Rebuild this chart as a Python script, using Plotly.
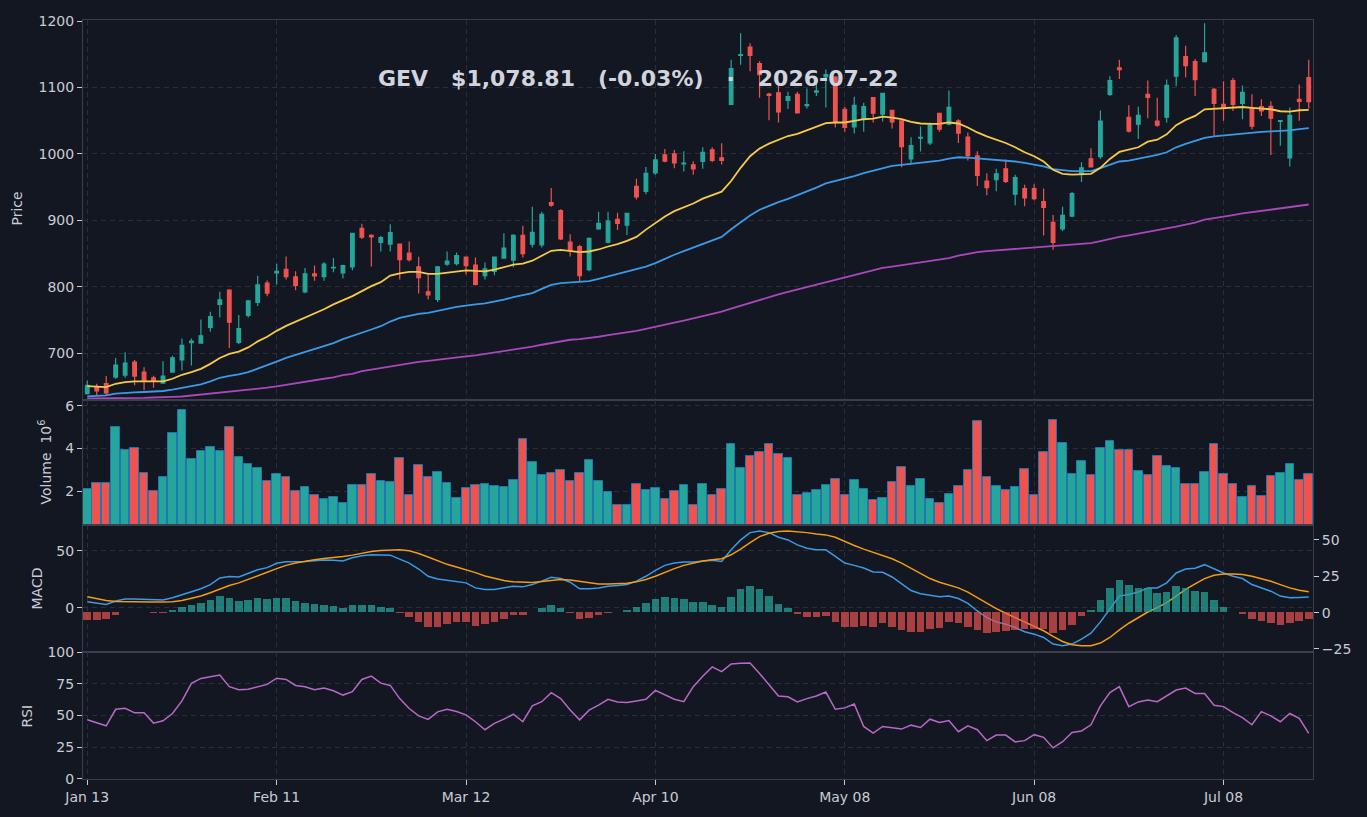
import plotly.graph_objects as go
import pandas as pd

TICKER = "GEV"
ASOF = "2026-07-22"
HOLIDAYS = ["2026-01-19", "2026-02-16", "2026-04-03", "2026-05-25", "2026-06-19", "2026-07-03"]
DATES = [d.strftime("%Y-%m-%d") for d in pd.bdate_range("2026-01-13", periods=130, freq="C", holidays=HOLIDAYS)]
TICK_LABELS = ["Jan 13", "Feb 11", "Mar 12", "Apr 10", "May 08", "Jun 08", "Jul 08"]

OPEN = [639.3, 648.3, 654.3, 664.2, 667.2, 686.6, 671.7, 663.2, 655.2, 671.7,
        690.1, 715.9, 715.4, 738.8, 773.6, 795.0, 716.4, 757.2, 776.6, 805.5,
        821.0, 826.4, 815.0, 792.5, 819.4, 815.4, 828.5, 820.9, 829.9, 888.1,
        877.6, 866.7, 864.2, 864.2, 850.7, 829.9, 792.5, 781.1, 834.3, 834.8,
        844.8, 832.8, 816.9, 823.4, 843.3, 840.3, 877.6, 864.2, 863.2, 926.9,
        914.9, 867.2, 860.7, 825.9, 887.1, 867.2, 901.5, 893.0, 951.2, 943.7,
        971.6, 998.5, 1000.0, 985.1, 983.6, 988.6, 1006.0, 994.0, 1074.6, 1148.3,
        1160.7, 1135.8, 1090.0, 1092.0, 1080.6, 1089.6, 1072.6, 1093.0, 1115.9, 1115.4,
        1067.2, 1040.8, 1052.2, 1084.6, 1059.7, 1065.7, 1049.8, 992.5, 1023.9, 1016.4,
        1061.2, 1044.8, 1049.8, 1025.4, 997.0, 959.2, 961.2, 977.6, 939.3, 947.8,
        947.8, 928.4, 897.0, 887.1, 906.5, 969.2, 992.5, 996.0, 1089.6, 1129.4,
        1055.2, 1044.8, 1089.6, 1049.3, 1055.2, 1116.9, 1146.3, 1138.8, 1138.8, 1097.0,
        1074.6, 1110.4, 1076.1, 1069.7, 1071.1, 1071.6, 1048.8, 994.0, 1082.1, 1114.9]
HIGH = [659.0, 654.3, 665.7, 693.0, 701.5, 690.1, 679.1, 666.2, 688.1, 696.5,
        722.4, 722.4, 750.7, 762.7, 792.5, 796.5, 757.7, 779.6, 816.6, 809.5,
        834.8, 845.8, 823.4, 828.4, 832.3, 837.3, 843.3, 833.3, 881.5, 895.0,
        879.1, 876.6, 894.0, 865.2, 868.2, 845.3, 818.4, 831.4, 853.2, 851.7,
        845.3, 844.3, 836.8, 845.3, 880.6, 879.1, 892.1, 920.4, 913.0, 948.8,
        916.9, 879.1, 863.2, 874.1, 912.9, 912.9, 911.4, 911.0, 962.7, 980.5,
        1000.0, 1007.5, 1006.0, 1004.0, 989.1, 1010.0, 1010.0, 1015.9, 1141.8, 1181.6,
        1166.7, 1139.3, 1092.0, 1104.5, 1093.5, 1093.5, 1098.5, 1105.5, 1126.9, 1116.9,
        1071.1, 1086.1, 1077.1, 1085.0, 1091.5, 1066.2, 1050.3, 1024.9, 1041.3, 1047.3,
        1061.7, 1095.5, 1052.2, 1032.3, 1004.0, 971.1, 977.6, 991.5, 968.7, 953.7,
        954.2, 947.8, 908.0, 920.4, 942.8, 987.6, 1008.5, 1065.2, 1116.9, 1141.8,
        1073.1, 1071.1, 1110.4, 1084.6, 1111.9, 1179.1, 1162.7, 1142.8, 1196.5, 1099.5,
        1109.5, 1114.4, 1103.0, 1089.6, 1082.1, 1079.1, 1050.7, 1069.7, 1104.5, 1141.8]
LOW = [638.0, 637.0, 637.0, 661.7, 663.2, 652.0, 644.3, 648.3, 655.0, 671.0,
       674.0, 681.6, 715.0, 732.3, 753.7, 708.0, 714.0, 753.7, 771.1, 786.0,
       803.5, 811.0, 795.0, 790.5, 809.0, 809.0, 821.9, 812.4, 824.9, 872.1,
       830.8, 853.2, 853.2, 811.0, 838.3, 790.0, 781.0, 777.1, 831.8, 832.3,
       818.4, 802.0, 811.0, 817.4, 843.0, 829.4, 844.3, 859.2, 859.2, 920.4,
       870.6, 845.8, 808.5, 823.4, 886.0, 865.2, 885.6, 878.1, 931.3, 939.2,
       968.6, 987.6, 978.6, 973.6, 968.6, 977.6, 987.6, 984.1, 1073.6, 1134.3,
       1124.4, 1084.6, 1050.7, 1047.3, 1067.7, 1061.2, 1068.2, 1087.1, 1069.7, 1039.8,
       1033.3, 1030.8, 1033.3, 1047.3, 1048.8, 1038.3, 980.0, 985.0, 1003.5, 1013.4,
       1033.3, 1043.3, 1016.4, 990.0, 951.7, 937.8, 943.8, 956.2, 922.9, 921.4,
       930.3, 877.1, 855.7, 884.1, 905.0, 957.7, 979.6, 992.5, 1087.1, 1112.9,
       1032.3, 1022.4, 1053.7, 1040.8, 1047.3, 1102.0, 1115.4, 1087.1, 1137.8, 1027.4,
       1049.8, 1064.7, 1052.2, 1037.3, 1057.2, 998.5, 1012.4, 981.1, 1049.8, 1068.2]
CLOSE = [651.7, 643.3, 640.3, 682.1, 685.1, 665.7, 659.2, 658.2, 665.7, 693.0,
         712.0, 718.4, 726.4, 755.2, 780.6, 746.8, 737.3, 779.1, 802.9, 790.5,
         823.4, 815.4, 802.0, 819.4, 816.4, 834.3, 829.4, 831.8, 880.6, 874.6,
         875.1, 874.1, 881.6, 840.8, 840.8, 813.9, 788.0, 829.9, 838.8, 847.2,
         831.8, 803.5, 826.9, 844.8, 858.2, 877.6, 849.8, 882.1, 909.0, 922.9,
         872.1, 854.7, 816.9, 873.1, 895.5, 899.0, 895.5, 910.4, 935.3, 970.6,
         991.0, 989.1, 986.6, 986.1, 977.6, 1002.5, 990.1, 990.1, 1128.4, 1149.3,
         1148.3, 1119.4, 1088.0, 1063.2, 1086.1, 1061.7, 1074.1, 1095.0, 1119.4, 1047.3,
         1039.8, 1073.1, 1071.1, 1061.2, 1091.0, 1048.3, 1011.0, 1012.4, 1024.9, 1043.3,
         1037.3, 1070.1, 1031.3, 997.5, 967.7, 949.3, 970.1, 958.7, 964.2, 933.8,
         932.8, 919.4, 866.7, 907.5, 940.3, 979.1, 980.6, 1049.3, 1110.4, 1126.9,
         1034.3, 1058.2, 1085.1, 1043.3, 1103.0, 1174.6, 1132.8, 1111.9, 1152.2, 1076.1,
         1069.7, 1074.6, 1092.5, 1041.8, 1064.7, 1053.7, 1050.2, 1058.2, 1079.1, 1078.81]
VOLUME_M = [2.08, 2.36, 2.36, 4.99, 3.92, 4.00, 2.83, 1.99, 2.64, 4.70,
            5.78, 3.49, 3.86, 4.05, 3.86, 5.02, 3.58, 3.25, 3.06, 2.45,
            2.78, 2.64, 1.99, 2.17, 1.80, 1.61, 1.70, 1.42, 2.27, 2.27,
            2.78, 2.45, 2.41, 3.53, 1.80, 3.20, 2.64, 2.88, 2.36, 1.66,
            2.13, 2.27, 2.31, 2.22, 2.17, 2.50, 4.42, 3.35, 2.74, 2.83,
            2.97, 2.45, 2.83, 3.44, 2.45, 1.94, 1.36, 1.36, 2.31, 2.03,
            2.13, 1.61, 1.99, 2.27, 1.36, 2.31, 1.80, 2.08, 4.19, 3.06,
            3.63, 3.81, 4.19, 3.72, 3.53, 1.83, 1.89, 2.03, 2.27, 2.55,
            1.80, 2.50, 2.08, 1.56, 1.66, 2.41, 3.11, 2.22, 2.55, 1.61,
            1.42, 1.85, 2.22, 2.97, 5.27, 2.64, 2.22, 2.03, 2.17, 3.02,
            1.80, 3.81, 5.32, 4.23, 2.78, 3.39, 2.74, 4.00, 4.33, 3.91,
            3.91, 2.92, 2.74, 3.63, 3.16, 3.06, 2.31, 2.31, 2.88, 4.19,
            2.78, 2.31, 1.70, 2.22, 1.75, 2.69, 2.83, 3.25, 2.50, 2.78]
MA_FAST = [650.7, 650.2, 649.0, 654.2, 656.7, 657.7, 657.7, 657.7, 657.7, 661.7,
           667.7, 671.6, 676.6, 684.1, 693.0, 699.0, 702.5, 708.9, 717.9, 724.9,
           733.8, 741.3, 747.3, 753.7, 759.7, 766.2, 773.6, 779.6, 786.1, 793.5,
           801.0, 807.0, 816.9, 820.4, 822.4, 822.4, 819.4, 819.4, 820.9, 823.4,
           824.9, 823.9, 823.4, 825.9, 829.4, 833.3, 834.8, 839.3, 846.8, 854.2,
           855.7, 854.2, 852.2, 853.2, 856.2, 860.7, 864.2, 869.2, 875.1, 886.1,
           896.5, 906.0, 913.9, 919.9, 925.4, 932.8, 938.3, 943.3, 959.2, 979.1,
           996.5, 1008.0, 1015.4, 1020.9, 1026.9, 1030.3, 1035.3, 1040.8, 1046.3, 1047.3,
           1047.3, 1049.8, 1052.2, 1053.2, 1056.2, 1054.7, 1052.2, 1048.3, 1045.8, 1045.3,
           1045.3, 1047.3, 1045.8, 1039.8, 1032.3, 1026.4, 1021.4, 1016.4, 1010.0, 1002.5,
           996.5, 988.6, 976.1, 970.1, 968.7, 969.2, 970.1, 979.1, 992.5, 1003.0,
           1006.5, 1010.0, 1018.4, 1021.4, 1029.4, 1043.3, 1051.2, 1057.2, 1067.2, 1068.2,
           1068.2, 1069.2, 1070.6, 1069.2, 1068.2, 1067.2, 1064.2, 1063.7, 1065.7, 1066.2]
MA_MID = [635.3, 635.8, 636.8, 639.3, 640.8, 641.3, 641.8, 642.3, 643.3, 645.3,
          647.8, 650.2, 653.2, 657.7, 663.2, 666.2, 668.2, 671.7, 676.6, 681.6,
          687.6, 693.0, 697.5, 702.5, 706.5, 711.4, 715.4, 721.4, 725.9, 730.8,
          735.8, 740.8, 747.8, 753.2, 756.7, 759.2, 760.7, 763.2, 766.7, 769.7,
          772.1, 773.6, 775.1, 777.6, 780.6, 784.6, 787.1, 790.5, 797.0, 803.0,
          805.5, 806.5, 806.5, 808.5, 811.9, 815.4, 818.9, 822.4, 825.9, 830.3,
          835.8, 842.3, 848.3, 853.7, 859.2, 863.7, 869.2, 875.1, 886.6, 897.5,
          907.5, 916.0, 921.9, 927.4, 932.3, 937.8, 943.3, 949.3, 955.7, 959.2,
          963.2, 966.7, 971.1, 975.1, 979.1, 982.1, 983.6, 985.1, 986.6, 988.1,
          990.0, 993.0, 995.0, 994.5, 993.5, 992.0, 991.0, 990.0, 988.6, 986.6,
          984.1, 981.1, 977.1, 975.1, 974.1, 974.1, 974.1, 978.6, 984.1, 988.6,
          990.0, 992.5, 996.0, 998.5, 1002.5, 1010.0, 1015.0, 1019.0, 1024.0, 1026.4,
          1027.9, 1029.4, 1031.3, 1031.8, 1033.3, 1033.8, 1034.3, 1035.3, 1037.3, 1038.8]
MA_SLOW = [632.0, 632.0, 632.0, 632.5, 632.5, 633.0, 633.0, 633.5, 633.5, 634.5,
           635.0, 636.5, 637.5, 638.9, 640.4, 641.4, 642.9, 644.4, 646.4, 648.3,
           650.2, 652.7, 655.2, 657.7, 659.7, 661.7, 663.7, 667.2, 669.2, 673.1,
           675.6, 678.1, 680.6, 682.6, 685.1, 687.1, 688.6, 690.6, 692.0, 694.0,
           695.5, 697.0, 699.0, 701.0, 703.5, 706.0, 708.0, 710.0, 712.9, 715.4,
           718.4, 720.4, 721.4, 722.9, 724.9, 727.4, 729.4, 731.8, 733.8, 736.8,
           740.3, 743.3, 746.3, 749.3, 752.7, 756.2, 759.2, 762.7, 767.2, 771.6,
           776.1, 780.6, 784.6, 788.6, 792.5, 796.0, 799.5, 803.5, 807.0, 810.5,
           814.0, 817.4, 820.9, 824.4, 828.4, 830.3, 832.3, 834.3, 836.3, 838.3,
           840.3, 843.3, 846.8, 849.8, 852.2, 853.7, 854.7, 856.2, 857.7, 858.7,
           859.7, 860.2, 860.7, 861.7, 863.2, 864.2, 865.7, 868.7, 872.1, 875.1,
           877.6, 880.1, 882.6, 884.6, 888.1, 890.5, 893.5, 896.5, 901.0, 903.0,
           905.5, 908.0, 910.4, 912.4, 914.4, 915.9, 917.9, 919.9, 921.9, 923.9]
MACD = [5.2, 3.8, 2.9, 5.8, 7.6, 7.6, 7.3, 6.7, 6.7, 8.7,
        11.6, 14.0, 16.6, 20.3, 26.2, 27.3, 27.0, 29.9, 33.4, 35.2,
        39.0, 40.4, 40.4, 40.7, 41.3, 41.9, 41.6, 41.0, 43.9, 45.6,
        46.5, 46.5, 46.2, 42.7, 39.2, 34.0, 27.6, 25.3, 24.1, 23.5,
        21.8, 17.4, 16.0, 16.0, 17.2, 18.9, 18.3, 20.3, 23.3, 26.7,
        25.6, 22.4, 16.6, 16.6, 17.4, 18.9, 19.5, 20.3, 23.3, 27.6,
        32.8, 37.2, 39.2, 40.1, 40.1, 41.0, 41.6, 40.7, 50.9, 59.6,
        66.0, 67.4, 66.0, 61.9, 59.6, 55.2, 52.3, 50.9, 50.9, 45.1,
        39.2, 37.2, 34.9, 31.4, 31.1, 27.0, 20.9, 15.1, 12.2, 11.0,
        9.6, 10.2, 8.1, 3.8, -2.9, -8.7, -12.5, -14.5, -17.4, -21.2,
        -23.3, -26.2, -32.0, -33.4, -32.0, -27.6, -22.4, -12.5, -1.5, 10.2,
        11.6, 13.7, 17.4, 17.4, 21.8, 30.5, 34.0, 34.6, 37.8, 34.0,
        30.5, 27.6, 25.6, 20.3, 17.4, 14.5, 10.2, 8.7, 9.0, 9.3]
SIGNAL = [9.6, 7.8, 6.4, 5.5, 5.2, 5.2, 5.2, 4.9, 4.9, 5.2,
          6.4, 8.1, 10.2, 13.1, 16.6, 19.5, 21.8, 24.7, 28.2, 31.1,
          34.3, 37.2, 39.2, 41.0, 42.2, 43.3, 44.0, 45.1, 46.2, 48.0,
          49.4, 50.3, 50.9, 50.9, 50.0, 47.7, 44.5, 41.0, 38.1, 35.8,
          33.4, 30.8, 27.9, 25.6, 23.8, 22.7, 22.1, 22.1, 23.0, 24.1,
          24.7, 24.4, 23.3, 21.8, 20.9, 20.9, 20.9, 21.5, 22.7, 24.7,
          27.6, 31.1, 34.3, 37.2, 39.2, 41.0, 42.2, 43.0, 46.5, 51.5,
          57.3, 62.5, 65.4, 66.9, 67.4, 66.9, 66.0, 64.8, 64.0, 61.9,
          58.1, 54.7, 51.5, 48.5, 45.9, 43.0, 39.2, 34.9, 29.9, 25.6,
          22.4, 20.1, 17.4, 13.7, 8.7, 3.8, -0.9, -4.9, -8.7, -13.1,
          -16.6, -20.3, -25.3, -29.7, -32.6, -33.4, -33.4, -31.1, -26.2, -19.5,
          -13.7, -8.7, -3.8, 0.0, 4.4, 10.2, 16.0, 20.9, 25.6, 28.5,
          29.7, 29.7, 29.1, 27.6, 25.6, 23.3, 20.3, 17.4, 15.4, 14.0]
HIST = [-5.0, -5.0, -4.3, -1.6, 0.0, 0.0, 0.0, -0.2, -0.2, 1.6,
        3.6, 5.0, 6.4, 8.4, 11.1, 9.8, 7.7, 8.4, 9.8, 9.1,
        9.8, 9.8, 7.7, 6.4, 5.7, 5.0, 4.3, 3.0, 5.0, 5.0,
        5.0, 3.6, 3.0, -0.2, -3.0, -6.4, -10.0, -10.0, -8.4, -7.0,
        -7.0, -9.1, -8.4, -6.4, -4.3, -1.6, -1.6, 0.0, 3.0, 5.0,
        3.0, -0.2, -4.3, -3.6, -1.6, -0.2, 0.0, 1.6, 3.6, 6.4,
        9.1, 10.5, 9.8, 9.1, 7.0, 7.0, 5.0, 3.6, 10.5, 15.9,
        18.0, 15.9, 11.1, 5.7, 3.0, -0.9, -3.0, -3.0, -2.3, -6.4,
        -9.8, -9.8, -9.1, -9.8, -7.7, -9.8, -12.5, -13.9, -13.9, -11.4,
        -10.5, -7.0, -7.7, -9.8, -12.5, -14.5, -13.9, -13.2, -12.5, -11.4,
        -11.4, -11.4, -14.5, -12.5, -8.6, -2.5, 1.6, 8.4, 16.6, 22.0,
        18.6, 16.6, 16.6, 13.2, 13.9, 18.0, 16.6, 14.5, 13.9, 8.4,
        3.6, 0.0, -1.1, -4.5, -5.7, -7.3, -8.6, -7.7, -5.7, -4.5]
RSI = [46.6, 44.0, 41.9, 54.9, 55.7, 52.1, 52.1, 44.0, 45.8, 51.6,
       61.5, 75.3, 79.2, 80.5, 81.8, 72.7, 70.3, 70.6, 72.7, 74.5,
       79.4, 78.4, 73.7, 72.7, 70.3, 71.6, 69.5, 66.1, 68.8, 78.4,
       81.0, 75.5, 73.7, 63.3, 55.5, 49.7, 46.9, 52.9, 54.9, 53.1,
       50.5, 45.1, 38.8, 43.8, 47.1, 51.0, 45.1, 57.6, 60.9, 68.0,
       63.3, 54.4, 46.6, 54.2, 58.1, 62.8, 60.7, 60.2, 61.5, 62.8,
       69.8, 66.1, 62.8, 60.9, 72.7, 81.0, 88.3, 84.6, 90.6, 91.1,
       91.4, 83.1, 73.9, 65.4, 64.8, 60.7, 63.3, 65.4, 68.5, 54.9,
       56.0, 59.1, 41.4, 36.2, 41.4, 40.1, 39.3, 42.4, 40.6, 47.1,
       44.5, 46.1, 37.2, 41.9, 38.8, 30.2, 34.6, 34.6, 29.2, 30.2,
       34.9, 32.8, 24.5, 29.4, 36.7, 37.8, 42.7, 57.6, 68.0, 72.7,
       57.0, 60.7, 62.2, 60.9, 65.4, 70.1, 71.6, 67.4, 67.4, 58.1,
       57.0, 52.3, 48.4, 42.7, 53.1, 49.7, 45.1, 51.6, 47.7, 36.0]

BG = "#131722"
GRID = "#2a2e39"
SPINE = "#3b3f4c"
TXT = "#c8ccd4"
UP = "#26a69a"
DOWN = "#ef5350"
FONT = "DejaVu Sans"

TICKVALS = DATES[::20]

fig = go.Figure()

fig.add_trace(go.Candlestick(
    x=DATES, open=OPEN, high=HIGH, low=LOW, close=CLOSE,
    increasing=dict(line=dict(color=UP, width=1.2), fillcolor=UP),
    decreasing=dict(line=dict(color=DOWN, width=1.2), fillcolor=DOWN),
    whiskerwidth=0, showlegend=False, xaxis="x", yaxis="y", hoverinfo="skip"))
for series, color in [(MA_SLOW, "#ab47bc"), (MA_MID, "#3b9ae6"), (MA_FAST, "#f7c948")]:
    fig.add_trace(go.Scatter(x=DATES, y=series, mode="lines", line=dict(color=color, width=1.8),
                             showlegend=False, xaxis="x", yaxis="y", hoverinfo="skip"))

vol_colors = [UP if c >= o else DOWN for o, c in zip(OPEN, CLOSE)]
fig.add_trace(go.Bar(x=DATES, y=VOLUME_M, width=0.9,
                     marker=dict(color=vol_colors, line=dict(color="#1f77b4", width=1)),
                     showlegend=False, xaxis="x2", yaxis="y2", hoverinfo="skip"))

fig.add_trace(go.Scatter(x=DATES, y=MACD, mode="lines", line=dict(color="#3b9ae6", width=1.5),
                         showlegend=False, xaxis="x3", yaxis="y3", hoverinfo="skip"))
fig.add_trace(go.Scatter(x=DATES, y=SIGNAL, mode="lines", line=dict(color="#f39c12", width=1.5),
                         showlegend=False, xaxis="x3", yaxis="y3", hoverinfo="skip"))
hist_colors = ["rgba(38,166,154,0.72)" if h >= 0 else "rgba(239,83,80,0.68)" for h in HIST]
fig.add_trace(go.Bar(x=DATES, y=HIST, width=0.8, marker=dict(color=hist_colors, line=dict(width=0)),
                     showlegend=False, xaxis="x3", yaxis="y4", hoverinfo="skip"))

fig.add_trace(go.Scatter(x=DATES, y=RSI, mode="lines", line=dict(color="#ba68c8", width=1.5),
                         showlegend=False, xaxis="x4", yaxis="y5", hoverinfo="skip"))

tickfont = dict(family=FONT, size=14, color=TXT)
xbase = dict(type="category", range=[-0.45, 129.45], tickvals=TICKVALS, ticktext=TICK_LABELS,
             showgrid=True, gridcolor=GRID, gridwidth=1, griddash="5px,4px",
             showline=True, linecolor=SPINE, linewidth=1, mirror=True, zeroline=False,
             rangeslider=dict(visible=False), tickfont=tickfont, fixedrange=True)
ybase = dict(showgrid=True, gridcolor=GRID, gridwidth=1, griddash="5px,4px",
             showline=True, linecolor=SPINE, linewidth=1, mirror=True, zeroline=False,
             ticks="outside", ticklen=5, tickcolor=TXT, tickfont=tickfont, fixedrange=True)

D_RSI = [0.0, 0.1673]
D_MACD = [0.1673, 0.3342]
D_VOL = [0.3342, 0.4993]
D_PRICE = [0.5, 1.0]

fig.update_layout(
    width=1367, height=817,
    margin=dict(l=83, r=54, t=16, b=36),
    paper_bgcolor=BG, plot_bgcolor=BG,
    font=dict(family=FONT, color=TXT),
    boxgap=0.45, bargap=0,
    showlegend=False,
    xaxis=dict(xbase, anchor="y", showticklabels=False, ticks=""),
    xaxis2=dict(xbase, anchor="y2", matches="x", showticklabels=False, ticks=""),
    xaxis3=dict(xbase, anchor="y3", matches="x", showticklabels=False, ticks=""),
    xaxis4=dict(xbase, anchor="y5", matches="x", showticklabels=True, ticks="outside",
                ticklen=5, tickcolor=TXT),
    yaxis=dict(ybase, domain=D_PRICE, anchor="x", range=[630.5, 1201.5],
               tickvals=[700, 800, 900, 1000, 1100, 1200]),
    yaxis2=dict(ybase, domain=D_VOL, anchor="x2", range=[0.39, 6.27], tickvals=[2, 4, 6]),
    yaxis3=dict(ybase, domain=D_MACD, anchor="x3", range=[-39.0, 72.4], tickvals=[0, 50]),
    yaxis4=dict(ybase, overlaying="y3", anchor="x3", side="right", range=[-27.1, 60.0],
                tickvals=[-25, 0, 25, 50], showgrid=False, showline=False),
    yaxis5=dict(ybase, domain=D_RSI, anchor="x4", range=[0, 100], tickvals=[0, 25, 50, 75, 100]),
)

pct = (CLOSE[-1] / CLOSE[-2] - 1) * 100
sp = "\u00a0\u00a0\u00a0"
title = f"{TICKER}{sp}${CLOSE[-1]:,.2f}{sp}({pct:.2f}%){sp}\u00b7{sp}{ASOF}"
W = 1230.0
H = 765.0


def px_x(p):
    return (p - 83) / W


def px_y(p):
    return (781 - p) / H


annos = [
    dict(text=title, x=px_x(638.5), y=px_y(75), xref="paper", yref="paper", showarrow=False,
         xanchor="center", yanchor="middle",
         font=dict(family=FONT, size=22, color="#d1d4dc", weight="bold")),
    dict(text="Price", x=px_x(17), y=px_y(206), textangle=-90),
    dict(text="Volume\u00a0\u00a010<sup>6</sup>", x=px_x(45), y=px_y(462), textangle=-90),
    dict(text="MACD", x=px_x(37), y=px_y(589), textangle=-90),
    dict(text="RSI", x=px_x(27), y=px_y(717), textangle=-90),
]
for a in annos[1:]:
    a.update(xref="paper", yref="paper", showarrow=False, xanchor="center", yanchor="middle",
             font=dict(family=FONT, size=14, color=TXT))
fig.update_layout(annotations=annos)

fig.write_html("out.html")
